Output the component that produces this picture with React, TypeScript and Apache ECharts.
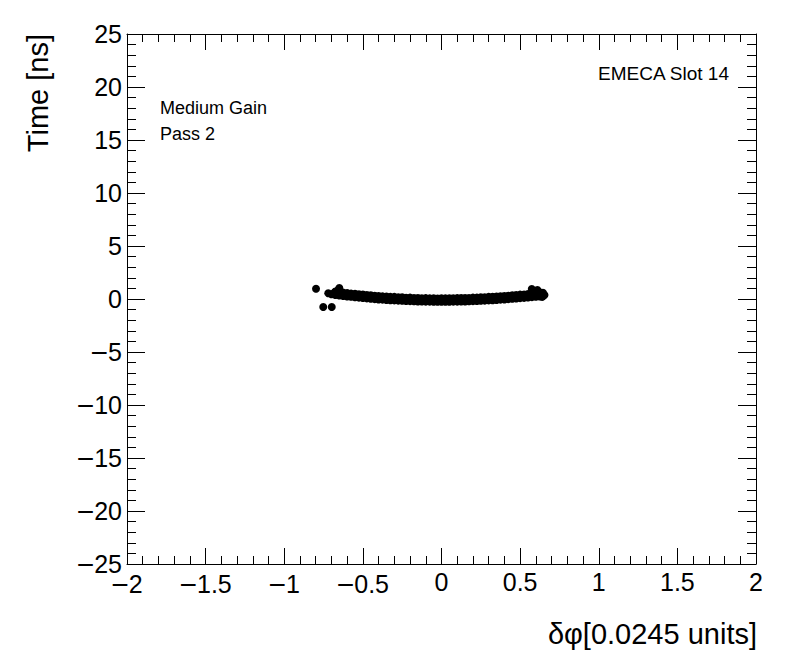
import React, { useEffect, useRef } from "react";
import * as echarts from "echarts";

// δφ positions of the main band
const phiValues = [
  -0.675, -0.65, -0.625, -0.6, -0.575, -0.55, -0.525, -0.5, -0.475, -0.45,
  -0.425, -0.4, -0.375, -0.35, -0.325, -0.3, -0.275, -0.25, -0.225, -0.2,
  -0.175, -0.15, -0.125, -0.1, -0.075, -0.05, -0.025, 0, 0.025, 0.05,
  0.075, 0.1, 0.125, 0.15, 0.175, 0.2, 0.225, 0.25, 0.275, 0.3,
  0.325, 0.35, 0.375, 0.4, 0.425, 0.45, 0.475, 0.5, 0.525, 0.55,
  0.575, 0.6, 0.625, 0.645,
];
// upper edge of the band (ns)
const timeUpper = [
  0.7, 0.66, 0.6, 0.57, 0.51, 0.49, 0.44, 0.42, 0.37, 0.35,
  0.3, 0.29, 0.25, 0.24, 0.2, 0.2, 0.16, 0.16, 0.12, 0.13,
  0.09, 0.1, 0.07, 0.08, 0.06, 0.07, 0.05, 0.07, 0.06, 0.07,
  0.07, 0.08, 0.09, 0.1, 0.1, 0.13, 0.13, 0.16, 0.16, 0.2,
  0.21, 0.24, 0.26, 0.29, 0.31, 0.35, 0.37, 0.41, 0.43, 0.47,
  0.5, 0.54, 0.56, 0.59,
];
// middle of the band (ns)
const timeMiddle = [
  0.54, 0.49, 0.45, 0.4, 0.36, 0.32, 0.29, 0.25, 0.22, 0.18,
  0.15, 0.12, 0.1, 0.07, 0.05, 0.03, 0.01, -0.01, -0.03, -0.04,
  -0.06, -0.07, -0.08, -0.09, -0.09, -0.1, -0.1, -0.1, -0.1, -0.1,
  -0.09, -0.09, -0.08, -0.07, -0.06, -0.04, -0.03, -0.01, 0.01, 0.03,
  0.05, 0.07, 0.1, 0.12, 0.15, 0.18, 0.21, 0.24, 0.27, 0.3,
  0.34, 0.37, 0.4, 0.42,
];
// lower edge of the band (ns)
const timeLower = [
  0.38, 0.33, 0.29, 0.24, 0.21, 0.16, 0.13, 0.09, 0.06, 0.02,
  -0.01, -0.04, -0.06, -0.09, -0.11, -0.13, -0.15, -0.17, -0.19, -0.2,
  -0.22, -0.23, -0.24, -0.25, -0.25, -0.26, -0.26, -0.26, -0.26, -0.26,
  -0.25, -0.25, -0.24, -0.23, -0.22, -0.2, -0.19, -0.17, -0.15, -0.13,
  -0.11, -0.09, -0.06, -0.04, -0.01, 0.02, 0.05, 0.08, 0.11, 0.14,
  0.18, 0.21, 0.24, 0.26,
];
// isolated points at both ends of the band
const outlierPhi = [-0.798, -0.752, -0.698, -0.72, -0.7, -0.68, -0.66, -0.65, 0.574, 0.61, 0.6, 0.63, 0.655, 0.64];
const outlierTime = [0.97, -0.75, -0.75, 0.55, 0.45, 0.62, 0.8, 1.04, 0.94, 0.85, 0.65, 0.6, 0.38, 0.2];

const xTickLabels = { min: -2, max: 2, interval: 0.5 };
const yTickLabels = { min: -25, max: 25, interval: 5 };

const fmt = (v: number) => (v < 0 ? "{m|\u2212}" + String(Math.abs(v)) : String(v));

const FONT = "'Liberation Sans', Arial, Helvetica, sans-serif";

export default function App() {
  const ref = useRef<HTMLDivElement>(null);
  useEffect(() => {
    document.body.style.margin = "0";
    const chart = echarts.init(ref.current!, undefined, { renderer: "svg" });
    const points: number[][] = [];
    phiValues.forEach((p, i) => {
      points.push([p, timeUpper[i]]);
      points.push([p, timeMiddle[i]]);
      points.push([p, timeLower[i]]);
    });
    outlierPhi.forEach((p, i) => points.push([p, outlierTime[i]]));

    const axisLine = { show: true, onZero: false, lineStyle: { color: "#000", width: 1 } };
    const rich = { m: { fontSize: 30, fontFamily: FONT, color: "#000" } };
    const xCommon = {
      type: "value" as const,
      min: xTickLabels.min,
      max: xTickLabels.max,
      interval: xTickLabels.interval,
      axisLine,
      axisTick: { show: true, inside: true, length: 16, lineStyle: { color: "#000" } },
      minorTick: { show: true, splitNumber: 5, length: 8, lineStyle: { color: "#000" } },
      splitLine: { show: false },
      minorSplitLine: { show: false },
    };
    const yCommon = {
      type: "value" as const,
      min: yTickLabels.min,
      max: yTickLabels.max,
      interval: yTickLabels.interval,
      axisLine,
      axisTick: { show: true, inside: true, length: 18, lineStyle: { color: "#000" } },
      minorTick: { show: true, splitNumber: 5, length: 9, lineStyle: { color: "#000" } },
      splitLine: { show: false },
      minorSplitLine: { show: false },
    };

    chart.setOption({
      animation: false,
      backgroundColor: "#fff",
      grid: { left: 127, right: 40, top: 34, bottom: 108, containLabel: false },
      xAxis: [
        {
          ...xCommon,
          position: "bottom",
          axisLabel: {
            show: true,
            color: "#000",
            fontSize: 25,
            fontFamily: FONT,
            margin: 5,
            formatter: fmt,
            rich,
            showMinLabel: true,
            showMaxLabel: true,
          },
        },
        { ...xCommon, position: "top", axisLabel: { show: false } },
      ],
      yAxis: [
        {
          ...yCommon,
          position: "left",
          axisLabel: {
            show: true,
            color: "#000",
            fontSize: 25,
            fontFamily: FONT,
            margin: 5,
            formatter: fmt,
            rich,
            showMinLabel: true,
            showMaxLabel: true,
          },
        },
        { ...yCommon, position: "right", axisLabel: { show: false } },
      ],
      series: [
        {
          type: "scatter",
          xAxisIndex: 0,
          yAxisIndex: 0,
          symbol: "circle",
          symbolSize: 8,
          itemStyle: { color: "#000", opacity: 1 },
          data: points,
        },
      ],
      graphic: [
        {
          type: "text",
          x: 38,
          y: 34,
          rotation: Math.PI / 2,
          style: { text: "Time [ns]", fontSize: 29, fontFamily: FONT, fill: "#000", align: "right", verticalAlign: "middle" },
        },
        {
          type: "text",
          x: 757,
          y: 634,
          style: { text: "δφ[0.0245 units]", fontSize: 29, fontFamily: FONT, fill: "#000", align: "right", verticalAlign: "middle" },
        },
        {
          type: "text",
          x: 729,
          y: 73,
          style: { text: "EMECA Slot 14", fontSize: 19, fontFamily: FONT, fill: "#000", align: "right", verticalAlign: "middle" },
        },
        {
          type: "text",
          x: 160,
          y: 108,
          style: { text: "Medium Gain", fontSize: 18, fontFamily: FONT, fill: "#000", align: "left", verticalAlign: "middle" },
        },
        {
          type: "text",
          x: 160,
          y: 134,
          style: { text: "Pass 2", fontSize: 18, fontFamily: FONT, fill: "#000", align: "left", verticalAlign: "middle" },
        },
      ],
    });
    return () => chart.dispose();
  }, []);
  return <div ref={ref} style={{ width: 796, height: 672 }} />;
}
